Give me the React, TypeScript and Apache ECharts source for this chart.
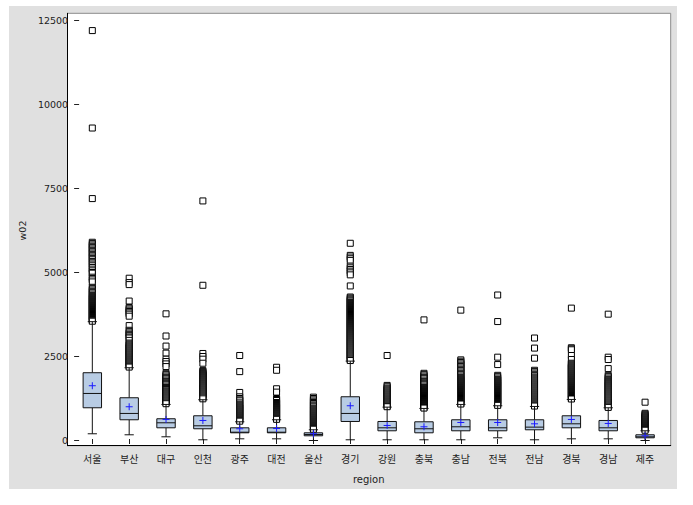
import React, { useEffect, useRef } from "react";
import * as echarts from "echarts";

const regions = ["서울", "부산", "대구", "인천", "광주", "대전", "울산", "경기", "강원", "충북", "충남", "전북", "전남", "경북", "경남", "제주"];
const whiskerLow = [200, 170, 110, 21, 50, 50, 0, 21, 21, 21, 21, 80, 21, 50, 50, 0];
const q1 = [974, 617, 378, 349, 229, 229, 140, 566, 289, 229, 289, 289, 319, 378, 289, 80];
const median = [1400, 805, 527, 438, 247, 247, 179, 805, 378, 349, 408, 378, 398, 497, 378, 110];
const q3 = [2017, 1272, 647, 736, 378, 378, 229, 1302, 566, 557, 617, 617, 617, 736, 596, 170];
const whiskerHigh = [3537, 2166, 1073, 1213, 557, 617, 319, 2363, 993, 954, 1073, 1034, 1013, 1222, 974, 289];
const means = [1630, 1004, 626, 596, 349, 358, 200, 1034, 447, 408, 536, 536, 497, 626, 507, 140];

const outSeoul = [12200, 9300, 7200, 5900, 5860, 5820, 5780, 5740, 5700, 5660, 5620, 5580, 5540, 5500, 5460, 5420, 5380, 5330, 5290, 5250, 5200, 5150, 5100, 5050, 5000, 4980, 4860, 4820, 4780, 4720, 4560, 4520, 4480, 4440, 4400, 4360, 4320, 4290, 4260, 4230, 4200, 4170, 4140, 4110, 4080, 4050, 4020, 3990, 3960, 3930, 3900, 3870, 3840, 3810, 3780, 3750, 3720, 3690, 3660, 3630, 3600, 3575, 3550];
const outBusan = [4830, 4700, 4640, 4150, 3960, 3920, 3880, 3840, 3800, 3760, 3700, 3420, 3280, 3240, 3200, 3160, 3120, 3080, 3050, 2980, 2900, 2870, 2840, 2810, 2780, 2750, 2720, 2690, 2660, 2630, 2600, 2570, 2540, 2510, 2480, 2450, 2420, 2390, 2360, 2330, 2300, 2270, 2240, 2210, 2185];
const outDaegu = [3770, 3110, 2810, 2600, 2420, 2350, 2280, 2200, 2000, 1960, 1920, 1880, 1840, 1800, 1760, 1720, 1690, 1660, 1620, 1580, 1550, 1520, 1480, 1450, 1420, 1390, 1360, 1330, 1300, 1270, 1240, 1210, 1180, 1150, 1120, 1095];
const outIncheon = [7130, 4620, 2590, 2500, 2420, 2300, 2080, 2050, 2020, 1990, 1960, 1930, 1900, 1870, 1840, 1810, 1780, 1750, 1720, 1690, 1660, 1630, 1600, 1570, 1540, 1510, 1480, 1450, 1420, 1390, 1360, 1330, 1300, 1270, 1240];
const outGwangju = [2530, 2050, 1430, 1300, 1250, 1210, 1180, 1120, 1080, 1050, 1020, 990, 960, 930, 900, 870, 840, 810, 780, 750, 720, 690, 660, 630, 600, 575];
const outDaejeon = [2180, 2090, 1540, 1440, 1250, 1220, 1190, 1130, 1100, 1070, 1040, 1010, 980, 950, 920, 890, 860, 830, 800, 770, 740, 710, 680, 650, 630];
const outUlsan = [1290, 1250, 1210, 1170, 1130, 1100, 1060, 1030, 1000, 960, 930, 900, 870, 840, 810, 780, 750, 720, 690, 660, 630, 600, 570, 540, 510, 480, 450, 420, 390, 360, 335];
const outGyeonggi = [5870, 5510, 5460, 5410, 5360, 5190, 5140, 5090, 5040, 4990, 4930, 4600, 4270, 4240, 4210, 4180, 4150, 4110, 4080, 4050, 4020, 3990, 3960, 3930, 3900, 3870, 3840, 3810, 3780, 3750, 3720, 3690, 3660, 3630, 3600, 3570, 3540, 3510, 3480, 3450, 3420, 3390, 3360, 3330, 3300, 3270, 3240, 3210, 3180, 3150, 3120, 3090, 3060, 3030, 3000, 2970, 2940, 2910, 2880, 2850, 2820, 2790, 2760, 2730, 2700, 2670, 2640, 2610, 2580, 2550, 2520, 2490, 2460, 2430, 2400, 2380];
const outGangwon = [2530, 1640, 1600, 1560, 1530, 1500, 1470, 1440, 1410, 1380, 1350, 1320, 1290, 1260, 1230, 1200, 1170, 1140, 1110, 1080, 1050, 1020, 1005];
const outChungbuk = [3590, 2000, 1960, 1920, 1880, 1850, 1800, 1760, 1720, 1690, 1660, 1620, 1580, 1550, 1520, 1490, 1460, 1430, 1400, 1370, 1340, 1310, 1280, 1250, 1220, 1190, 1160, 1130, 1100, 1070, 1040, 1010, 980, 965];
const outChungnam = [3880, 2400, 2360, 2320, 2280, 2240, 2200, 2160, 2120, 2080, 2040, 2000, 1960, 1920, 1880, 1850, 1820, 1790, 1760, 1730, 1700, 1670, 1640, 1610, 1580, 1550, 1520, 1490, 1460, 1430, 1400, 1370, 1340, 1310, 1280, 1250, 1220, 1190, 1160, 1130, 1100, 1085];
const outJeonbuk = [4330, 3540, 2480, 2260, 1940, 1900, 1860, 1820, 1790, 1760, 1730, 1700, 1670, 1640, 1610, 1580, 1550, 1520, 1490, 1460, 1430, 1400, 1370, 1340, 1310, 1280, 1250, 1220, 1190, 1160, 1130, 1100, 1070, 1045];
const outJeonnam = [3050, 2750, 2450, 2090, 2050, 2010, 1970, 1930, 1890, 1860, 1830, 1800, 1770, 1740, 1710, 1680, 1650, 1620, 1590, 1560, 1530, 1500, 1470, 1440, 1410, 1380, 1350, 1320, 1290, 1260, 1230, 1200, 1170, 1140, 1110, 1080, 1050, 1025];
const outGyeongbuk = [3940, 2760, 2730, 2700, 2530, 2410, 2300, 2270, 2240, 2210, 2180, 2150, 2120, 2090, 2060, 2030, 2000, 1970, 1940, 1910, 1880, 1850, 1820, 1790, 1760, 1730, 1700, 1670, 1640, 1610, 1580, 1550, 1520, 1490, 1460, 1430, 1400, 1370, 1340, 1310, 1280, 1250, 1235];
const outGyeongnam = [3760, 2480, 2410, 2140, 1940, 1900, 1860, 1820, 1780, 1750, 1720, 1690, 1660, 1630, 1600, 1570, 1540, 1510, 1480, 1450, 1420, 1390, 1360, 1330, 1300, 1270, 1240, 1210, 1180, 1150, 1120, 1090, 1060, 1030, 1000, 985];
const outJeju = [1140, 810, 780, 750, 720, 690, 660, 630, 600, 570, 540, 510, 480, 450, 420, 390, 360, 330, 305];

const outliers: number[][] = [outSeoul, outBusan, outDaegu, outIncheon, outGwangju, outDaejeon, outUlsan, outGyeonggi, outGangwon, outChungbuk, outChungnam, outJeonbuk, outJeonnam, outGyeongbuk, outGyeongnam, outJeju];

const yMin = 0;
const yMax = 12500;
const yStep = 2500;

export default function App() {
  const ref = useRef<HTMLDivElement>(null);
  useEffect(() => {
    if (!ref.current) return;
    const chart = echarts.init(ref.current, null, { renderer: "svg" });
    const boxData = regions.map((_, i) => [i, whiskerLow[i], q1[i], median[i], q3[i], whiskerHigh[i], means[i]]);
    const outData: number[][] = [];
    outliers.forEach((arr, i) => arr.forEach((v) => outData.push([i, v])));
    const font = "DejaVu Sans";
    const hidden = { show: false };
    chart.setOption({
      animation: false,
      backgroundColor: "#e0e0e0",
      grid: [
        { left: 64.9, top: 14.5, width: 589.6, height: 420, show: false },
        { left: 58.5, top: 7.3, width: 603.2, height: 432.4, show: true, backgroundColor: "#ffffff", borderColor: "#8a8a8a", borderWidth: 1, z: 0 },
        { left: 58.5, top: 14.5, width: 603.2, height: 420, show: false },
        { left: 64.9, top: 7.3, width: 589.6, height: 432.4, show: false },
      ],
      xAxis: [
        { type: "category", gridIndex: 0, data: regions, show: false },
        {
          type: "value",
          gridIndex: 1,
          position: "top",
          axisLine: { show: true, lineStyle: { color: "#000", width: 1 } },
          axisTick: hidden,
          axisLabel: hidden,
          splitLine: hidden,
        },
        { type: "value", gridIndex: 2, show: false },
        {
          type: "category",
          gridIndex: 3,
          data: regions,
          position: "bottom",
          axisLine: hidden,
          axisTick: { show: true, alignWithLabel: true, length: 5, lineStyle: { color: "#222", width: 1 } },
          axisLabel: { margin: 14, fontSize: 10, color: "#222", fontFamily: "Noto Sans CJK KR" },
          name: "region",
          nameLocation: "middle",
          nameGap: 35,
          nameTextStyle: { fontSize: 10, color: "#222", fontFamily: font },
          splitLine: hidden,
        },
      ],
      yAxis: [
        { type: "value", gridIndex: 0, min: yMin, max: yMax, interval: yStep, show: false },
        {
          type: "value",
          gridIndex: 1,
          position: "left",
          axisLine: { show: true, lineStyle: { color: "#000", width: 1 } },
          axisTick: hidden,
          axisLabel: hidden,
          splitLine: hidden,
        },
        {
          type: "value",
          gridIndex: 2,
          min: yMin,
          max: yMax,
          interval: yStep,
          position: "left",
          axisLine: hidden,
          axisTick: { show: true, length: 5, lineStyle: { color: "#222", width: 1 } },
          axisLabel: { margin: 11, fontSize: 9.5, color: "#222", fontFamily: font, formatter: (v: number) => String(v) },
          splitLine: hidden,
          name: "w02",
          nameLocation: "middle",
          nameGap: 50,
          nameTextStyle: { fontSize: 9.5, color: "#222", fontFamily: font },
        },
        { type: "value", gridIndex: 3, show: false },
      ],
      series: [
        {
          type: "scatter",
          xAxisIndex: 0,
          yAxisIndex: 0,
          data: outData,
          symbol: "rect",
          symbolSize: 6,
          itemStyle: { color: "#ffffff", borderColor: "#000000", borderWidth: 1, opacity: 1 },
          z: 3,
        },
        {
          type: "custom",
          xAxisIndex: 0,
          yAxisIndex: 0,
          data: boxData,
          z: 4,
          renderItem: (params: any, api: any) => {
            const x = api.value(0);
            const lo = api.coord([x, api.value(1)]);
            const b = api.coord([x, api.value(2)]);
            const m = api.coord([x, api.value(3)]);
            const t = api.coord([x, api.value(4)]);
            const hi = api.coord([x, api.value(5)]);
            const mn = api.coord([x, api.value(6)]);
            const band = api.size([1, 0])[0];
            const bw = band * 0.5;
            const cw = bw * 0.5;
            const cx = lo[0];
            const ls = { stroke: "#111", lineWidth: 1 };
            const blue = { stroke: "#1a1aff", lineWidth: 1 };
            return {
              type: "group",
              children: [
                { type: "line", shape: { x1: cx, y1: lo[1], x2: cx, y2: b[1] }, style: ls },
                { type: "line", shape: { x1: cx, y1: t[1], x2: cx, y2: hi[1] }, style: ls },
                { type: "line", shape: { x1: cx - cw / 2, y1: lo[1], x2: cx + cw / 2, y2: lo[1] }, style: ls },
                { type: "line", shape: { x1: cx - cw / 2, y1: hi[1], x2: cx + cw / 2, y2: hi[1] }, style: ls },
                { type: "rect", shape: { x: cx - bw / 2, y: t[1], width: bw, height: b[1] - t[1] }, style: { fill: "#b8cce4", stroke: "#111", lineWidth: 1 } },
                { type: "line", shape: { x1: cx - bw / 2, y1: m[1], x2: cx + bw / 2, y2: m[1] }, style: ls },
                { type: "line", shape: { x1: cx - 3.5, y1: mn[1], x2: cx + 3.5, y2: mn[1] }, style: blue },
                { type: "line", shape: { x1: cx, y1: mn[1] - 3.5, x2: cx, y2: mn[1] + 3.5 }, style: blue },
              ],
            };
          },
        },
      ],
    });
    return () => chart.dispose();
  }, []);
  return (
    <div style={{ position: "fixed", left: 0, top: 0, width: 693, height: 505, background: "#ffffff" }}>
      <div ref={ref} style={{ position: "absolute", left: 9, top: 6, width: 668, height: 483 }} />
    </div>
  );
}
